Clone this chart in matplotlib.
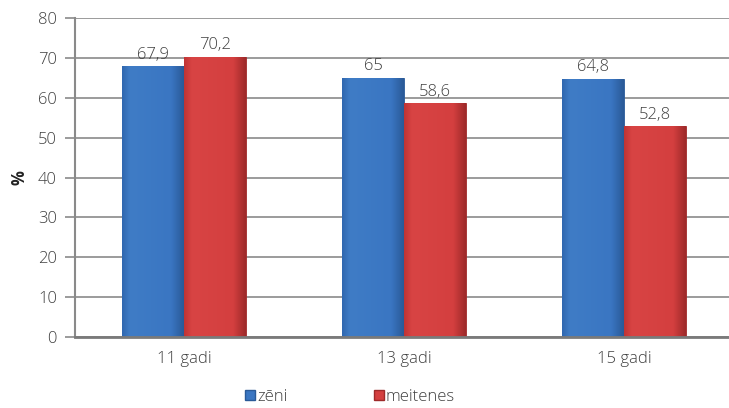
import matplotlib
matplotlib.use("Agg")
import matplotlib.pyplot as plt
import numpy as np
from matplotlib.lines import Line2D
from matplotlib.colors import LinearSegmentedColormap

categories = ["11 gadi", "13 gadi", "15 gadi"]
zeni = [67.9, 65, 64.8]
meitenes = [70.2, 58.6, 52.8]
series_names = ["zēni", "meitenes"]
labels_zeni = ["67,9", "65", "64,8"]
labels_meit = ["70,2", "58,6", "52,8"]

plt.rcParams['font.family'] = ['Open Sans', 'DejaVu Sans']

fig = plt.figure(figsize=(7.29, 4.08), dpi=100)
ax = fig.add_axes([75/729, 1-337/408, 1-75/729, (337-18)/408])

x = np.arange(len(categories))
w = 0.28
blue = "#3a76c2"
red = "#d43f3f"
bars_b = ax.bar(x - w/2, zeni, w, color=blue, edgecolor="#2a5a98", linewidth=0.6, zorder=3)
bars_r = ax.bar(x + w/2, meitenes, w, color=red, edgecolor="#9e2a2a", linewidth=0.6, zorder=3)

cmap_b = LinearSegmentedColormap.from_list("b", [(0, "#3068b0"), (0.12, "#3f7cc6"), (0.8, "#3a76c2"), (1, "#2a5a98")])
cmap_r = LinearSegmentedColormap.from_list("r", [(0, "#c03434"), (0.12, "#d84444"), (0.8, "#d43f3f"), (1, "#9e2a2a")])
grad = np.linspace(0, 1, 64).reshape(1, -1)
for bars, cm in ((bars_b, cmap_b), (bars_r, cmap_r)):
    for p in bars:
        x0, y0 = p.get_x(), p.get_y()
        im = ax.imshow(grad, cmap=cm, aspect="auto", extent=[x0, x0 + p.get_width(), y0, y0 + p.get_height()],
                       zorder=3.5, interpolation="bicubic")
        im.set_clip_path(p)

ax.set_ylim(0, 80)
ax.set_xlim(-0.495, 2.477)

for xi, v, t in zip(x - w/2, zeni, labels_zeni):
    ax.text(xi, v + 0.9, t, ha="center", va="bottom", fontsize=12, color="#404040", fontweight="light")
for xi, v, t in zip(x + w/2, meitenes, labels_meit):
    ax.text(xi, v + 0.9, t, ha="center", va="bottom", fontsize=12, color="#404040", fontweight="light")

ax.set_yticks(range(0, 81, 10))
ax.set_xticks(x)
ax.set_xticklabels(categories, fontweight="light")
for lab in ax.get_yticklabels():
    lab.set_fontweight("light")
ax.yaxis.grid(True, color="#8a8a8a", linewidth=1.2, zorder=0)
ax.set_axisbelow(True)
for s in ["top", "right"]:
    ax.spines[s].set_visible(False)
ax.spines["left"].set_color("#8a8a8a")
ax.spines["left"].set_linewidth(1.5)
ax.spines["bottom"].set_color("#7a7a7a")
ax.spines["bottom"].set_linewidth(2)
ax.spines["bottom"].set_zorder(4)
ax.tick_params(axis="y", length=7, width=1.2, color="#8a8a8a", labelsize=12, labelcolor="#404040", pad=6)
ax.tick_params(axis="x", length=0, labelsize=12, labelcolor="#404040", pad=10)
ax.set_ylabel("%", fontsize=12, fontweight="bold", color="#222222", labelpad=7)

handles = [Line2D([], [], marker="s", linestyle="", markersize=7, markerfacecolor=blue, markeredgecolor="#2a5a98"),
           Line2D([], [], marker="s", linestyle="", markersize=7, markerfacecolor=red, markeredgecolor="#9e2a2a")]
leg = fig.legend(handles, series_names, loc="center", bbox_to_anchor=(350/729, 1-397/408), ncol=2,
                 frameon=False, fontsize=12, handletextpad=0.1, handlelength=0.6, columnspacing=5.2,
                 labelcolor="#404040")
for t in leg.get_texts():
    t.set_fontweight("light")

fig.savefig("out.png", dpi=100)
